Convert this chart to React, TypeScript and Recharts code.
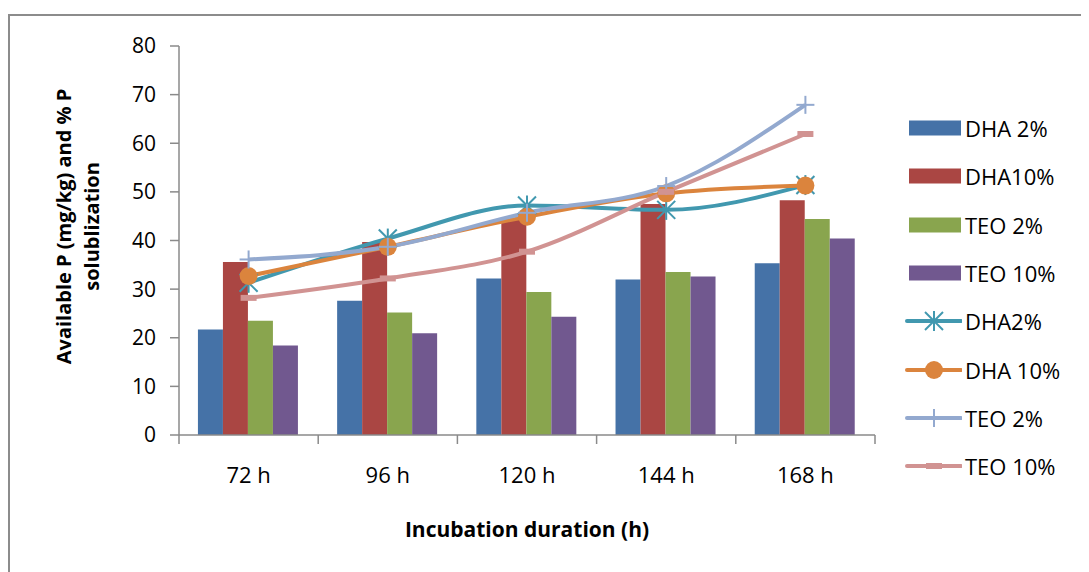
import React from 'react';
import { ComposedChart, Bar, Line, XAxis, YAxis, Legend } from 'recharts';

const categories = ['72 h', '96 h', '120 h', '144 h', '168 h'];

// bars
const dha2Bar = [21.7, 27.6, 32.2, 32.0, 35.3];
const dha10Bar = [35.6, 39.7, 44.2, 47.5, 48.3];
const teo2Bar = [23.5, 25.2, 29.4, 33.5, 44.4];
const teo10Bar = [18.4, 20.9, 24.3, 32.6, 40.4];

// lines
const dha2Line = [31.3, 40.4, 47.2, 46.3, 51.4];
const dha10Line = [32.7, 38.7, 44.9, 49.7, 51.3];
const teo2Line = [36.1, 38.7, 45.7, 51.2, 67.9];
const teo10Line = [28.2, 32.2, 37.7, 50.0, 61.9];

const yTicks = [0, 10, 20, 30, 40, 50, 60, 70, 80];

const FONT = "'Open Sans', sans-serif";
const AXIS = '#8a8a8a';
const X_TICK_MARGIN = 32;

const data = categories.map((name, i) => ({
  name,
  dha2Bar: dha2Bar[i],
  dha10Bar: dha10Bar[i],
  teo2Bar: teo2Bar[i],
  teo10Bar: teo10Bar[i],
  dha2Line: dha2Line[i],
  dha10Line: dha10Line[i],
  teo2Line: teo2Line[i],
  teo10Line: teo10Line[i],
}));

const legendOrder = ['dha2Bar', 'dha10Bar', 'teo2Bar', 'teo10Bar', 'dha2Line', 'dha10Line', 'teo2Line', 'teo10Line'];

// marker shapes, drawn around (cx, cy)
function markerShape(kind: string, cx: number, cy: number, color: string) {
  if (kind === 'dha2Line') {
    return (
      <g stroke={color} strokeWidth={2}>
        <line x1={cx} y1={cy - 10} x2={cx} y2={cy + 10} />
        <line x1={cx - 9} y1={cy - 9} x2={cx + 9} y2={cy + 9} />
        <line x1={cx - 9} y1={cy + 9} x2={cx + 9} y2={cy - 9} />
      </g>
    );
  }
  if (kind === 'dha10Line') {
    return <circle cx={cx} cy={cy} r={9} fill={color} />;
  }
  if (kind === 'teo2Line') {
    return (
      <g stroke={color} strokeWidth={2}>
        <line x1={cx} y1={cy - 9} x2={cx} y2={cy + 9} />
        <line x1={cx - 9} y1={cy} x2={cx + 9} y2={cy} />
      </g>
    );
  }
  if (kind === 'teo10Line') {
    return <line x1={cx - 8} y1={cy} x2={cx + 8} y2={cy} stroke={color} strokeWidth={6} />;
  }
  return null;
}

const makeDot = (kind: string, color: string) => (props: any) => (
  <g key={`${kind}-${props.index}`}>{markerShape(kind, props.cx, props.cy, color)}</g>
);

// category label plus Excel-style tick marks on the category edges
const CategoryTick = (props: any) => {
  const { x, y, payload, index, visibleTicksCount } = props;
  const half = payload.offset || 0;
  const axisY = y - X_TICK_MARGIN;
  const last = index === visibleTicksCount - 1;
  return (
    <g>
      <line x1={x - half} y1={axisY} x2={x - half} y2={axisY + 9} stroke={AXIS} strokeWidth={1.5} />
      {last && <line x1={x + half} y1={axisY} x2={x + half} y2={axisY + 9} stroke={AXIS} strokeWidth={1.5} />}
      <text x={x} y={y} dy="0.71em" textAnchor="middle" fill="#000" fontSize={22} fontFamily={FONT}>
        {payload.value}
      </text>
    </g>
  );
};

const YLabel = ({ viewBox }: any) => {
  const cx = 63;
  const cy = viewBox.y + viewBox.height / 2 - 14;
  return (
    <text
      transform={`rotate(-90, ${cx}, ${cy})`}
      x={cx}
      y={cy}
      textAnchor="middle"
      fontFamily={FONT}
      fontWeight="bold"
      fontSize={20}
      fill="#000"
    >
      <tspan x={cx} dy={0}>Available P (mg/kg) and % P</tspan>
      <tspan x={cx} dy={28}>solublization</tspan>
    </text>
  );
};

const renderLegend = ({ payload }: any) => {
  const items = [...(payload || [])].sort(
    (a: any, b: any) => legendOrder.indexOf(a.dataKey) - legendOrder.indexOf(b.dataKey)
  );
  return (
    <div style={{ display: 'flex', flexDirection: 'column' }}>
      {items.map((p: any) => {
        const isBar = p.dataKey.endsWith('Bar');
        return (
          <div key={p.dataKey} style={{ height: 48.3, display: 'flex', alignItems: 'center' }}>
            <svg width={62} height={24} style={{ marginRight: 3 }}>
              {isBar ? (
                <rect x={9} y={4.5} width={52} height={15} fill={p.color} />
              ) : (
                <g>
                  <line x1={7} y1={12} x2={61} y2={12} stroke={p.color} strokeWidth={4} strokeLinecap="round" />
                  {markerShape(p.dataKey, 34, 12, p.color)}
                </g>
              )}
            </svg>
            <span style={{ fontFamily: FONT, fontSize: 22, color: '#000' }}>{p.value}</span>
          </div>
        );
      })}
    </div>
  );
};

export default function App() {
  return (
    <div style={{ position: 'relative', width: 1081, height: 564, background: '#fff' }}>
      <div
        style={{
          position: 'absolute',
          left: 0,
          top: 6,
          right: 0,
          bottom: 0,
          borderLeft: '2px solid #8c8c8c',
          borderTop: '2px solid #8c8c8c',
        }}
      />
      <ComposedChart
        width={1081}
        height={564}
        data={data}
        margin={{ top: 38, right: 214, bottom: 30, left: 0 }}
        barCategoryGap="13.6%"
        barGap={0}
        style={{ position: 'absolute', left: 0, top: 0 }}
      >
        <XAxis
          dataKey="name"
          height={107}
          tickLine={false}
          tickSize={0}
          tickMargin={X_TICK_MARGIN}
          interval={0}
          axisLine={{ stroke: AXIS, strokeWidth: 1.5 }}
          tick={<CategoryTick />}
          label={{
            value: 'Incubation duration (h)',
            position: 'insideBottom',
            offset: 5,
            fill: '#000',
            fontSize: 21,
            fontWeight: 'bold',
            fontFamily: FONT,
          }}
        />
        <YAxis
          domain={[0, 80]}
          ticks={yTicks}
          width={171}
          tickSize={9}
          tickMargin={14}
          interval={0}
          stroke={AXIS}
          axisLine={{ stroke: AXIS, strokeWidth: 1.5 }}
          tickLine={{ stroke: AXIS, strokeWidth: 1.5 }}
          tick={{ fill: '#000', fontSize: 21, fontFamily: FONT }}
          label={<YLabel />}
        />
        <Legend
          layout="vertical"
          align="center"
          verticalAlign="middle"
          content={renderLegend}
          wrapperStyle={{ left: 892, top: 96, width: 189 }}
        />
        <Bar dataKey="dha2Bar" name="DHA 2%" fill="#4572A7" isAnimationActive={false} />
        <Bar dataKey="dha10Bar" name="DHA10%" fill="#AA4643" isAnimationActive={false} />
        <Bar dataKey="teo2Bar" name="TEO 2%" fill="#89A54E" isAnimationActive={false} />
        <Bar dataKey="teo10Bar" name="TEO 10%" fill="#71588F" isAnimationActive={false} />
        <Line
          type="monotone"
          dataKey="dha2Line"
          name="DHA2%"
          stroke="#4198AF"
          strokeWidth={4}
          dot={makeDot('dha2Line', '#4198AF')}
          activeDot={false}
          isAnimationActive={false}
        />
        <Line
          type="monotone"
          dataKey="dha10Line"
          name="DHA 10%"
          stroke="#DB843D"
          strokeWidth={4}
          dot={makeDot('dha10Line', '#DB843D')}
          activeDot={false}
          isAnimationActive={false}
        />
        <Line
          type="monotone"
          dataKey="teo2Line"
          name="TEO 2%"
          stroke="#93A9CF"
          strokeWidth={4}
          dot={makeDot('teo2Line', '#93A9CF')}
          activeDot={false}
          isAnimationActive={false}
        />
        <Line
          type="monotone"
          dataKey="teo10Line"
          name="TEO 10%"
          stroke="#D19392"
          strokeWidth={4}
          dot={makeDot('teo10Line', '#D19392')}
          activeDot={false}
          isAnimationActive={false}
        />
      </ComposedChart>
    </div>
  );
}
